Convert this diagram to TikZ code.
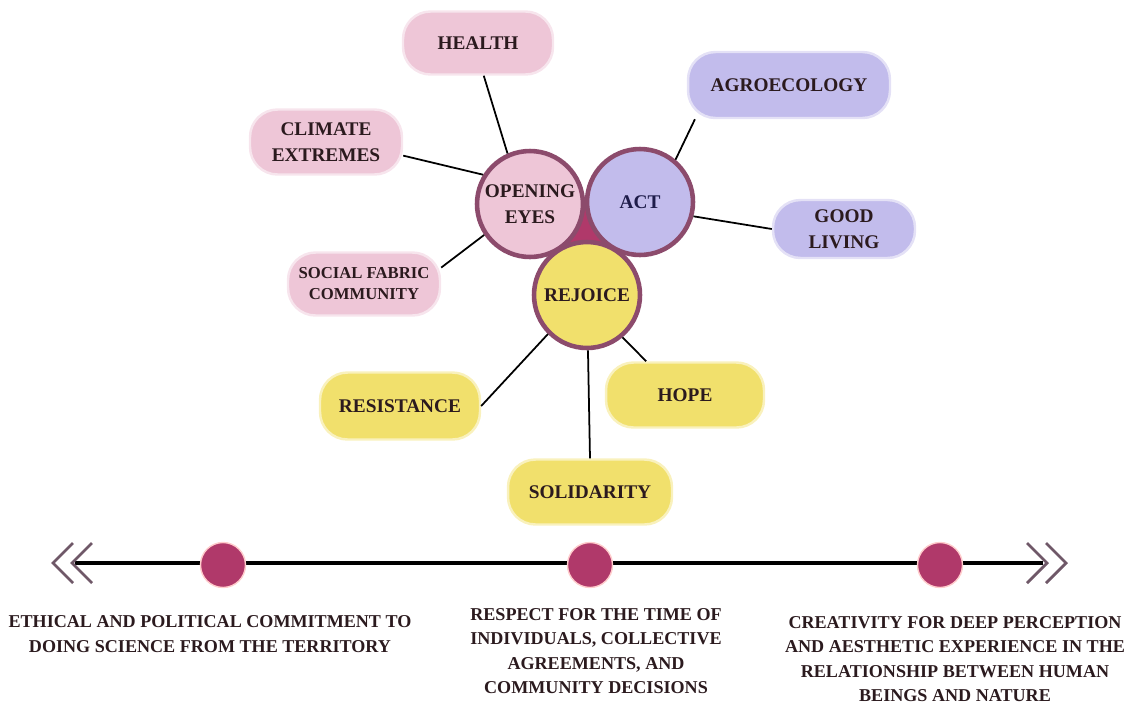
\documentclass[tikz,border=0pt]{standalone}
\usepackage{fontspec}
\setmainfont{Liberation Serif}
\definecolor{pinkbox}{HTML}{EEC6D7}
\definecolor{lilacbox}{HTML}{C2BCEC}
\definecolor{yellowbox}{HTML}{F1E06C}
\definecolor{ringcol}{HTML}{8C4B6C}
\definecolor{dotcol}{HTML}{B0396A}
\definecolor{chevcol}{HTML}{6F5868}
\definecolor{inkcol}{HTML}{2B1A1E}
\definecolor{navyink}{HTML}{1E1C4A}
\tikzset{
  box/.style={rounded corners=0.55cm, align=center, inner sep=2pt,
    font=\bfseries\fontsize{11}{15}\selectfont, text=inkcol},
  ring/.style={circle, draw=ringcol, line width=2.6pt, minimum size=2.12cm,
    inner sep=0pt, align=center, font=\bfseries\fontsize{11}{15}\selectfont, text=inkcol},
  spoke/.style={line width=1pt, black},
  dot/.style={circle, fill=dotcol, draw=pink!80, line width=0.8pt, minimum size=0.9cm},
  chevron/.style={chevcol, line width=1.6pt},
  caption/.style={align=center, font=\bfseries\fontsize{10.3}{14}\selectfont, text=inkcol}
}
\begin{document}
\begin{tikzpicture}[x=0.02cm,y=-0.02cm]
        \useasboundingbox (0,0) rectangle (1133,704);
        % three circles and the patch between them
        \coordinate (c1) at (530,204);
        \coordinate (c2) at (640,202);
        \coordinate (c3) at (587,295);
        \fill[dotcol] (c1)--(c2)--(c3)--cycle;
        \node[ring,fill=pinkbox] (oe) at (c1) {OPENING\\EYES};
        \node[ring,fill=lilacbox,text=navyink] (act) at (c2) {ACT};
        \node[ring,fill=yellowbox] (rej) at (c3) {REJOICE};
        % boxes
        \foreach \n/\x/\y/\w/\h/\c/\t in {
        health/478/43/3.0/1.26/pinkbox/HEALTH,
        climate/326/142/3.04/1.3/pinkbox/{CLIMATE\\EXTREMES},
        agro/789/85/4.04/1.32/lilacbox/AGROECOLOGY,
        good/844/229/2.84/1.16/lilacbox/{GOOD\\LIVING},
        resist/400/406/3.2/1.34/yellowbox/RESISTANCE,
        hope/685/395/3.16/1.3/yellowbox/HOPE,
        solid/590/492/3.28/1.3/yellowbox/SOLIDARITY}{
            \node[box,fill=\c,draw=\c!45!white,line width=1.4pt,minimum width=\w cm,minimum height=\h cm] (\n) at (\x,\y) {\t};
        }
        \node[box,fill=pinkbox,draw=pinkbox!45!white,line width=1.4pt,minimum width=3.04cm,minimum height=1.26cm,
          font=\bfseries\fontsize{9.5}{12}\selectfont] (social) at (364,284) {SOCIAL FABRIC\\COMMUNITY};
        % spokes
        \draw[spoke](health.-80)--(oe.114);
        \draw[spoke](climate.-10)--(oe.148);
        \draw[spoke](social.12)--(oe.214);
        \draw[spoke](agro.-160)--(act.50);
        \draw[spoke](good.west)--(act.-15);
        \draw[spoke](resist.east)--(rej.-135);
        \draw[spoke](hope.139)--(rej.-50);
        \draw[spoke](solid.north)--(rej.-89);
        % timeline
        \coordinate (tl) at (75,563);
        \coordinate (tr) at (1043,563);
        \draw[line width=2.2pt](tl)--(tr);
        \foreach \dx in {0,19}{
            \draw[chevron](73+\dx,543)--(53+\dx,563)--(73+\dx,583);
            \draw[chevron](1027+\dx,543)--(1047+\dx,563)--(1027+\dx,583);
        }
        \foreach \n/\x in {d1/223,d2/590,d3/940}{
            \node[dot] (\n) at (\x,565) {};
        }
        \node[caption] (cap1) at (210,634) {ETHICAL AND POLITICAL COMMITMENT TO\\DOING SCIENCE FROM THE TERRITORY};
        \node[caption] (cap2) at (596,651) {RESPECT FOR THE TIME OF\\INDIVIDUALS, COLLECTIVE\\AGREEMENTS, AND\\COMMUNITY DECISIONS};
        \node[caption] (cap3) at (955,659) {CREATIVITY FOR DEEP PERCEPTION\\AND AESTHETIC EXPERIENCE IN THE\\RELATIONSHIP BETWEEN HUMAN\\BEINGS AND NATURE};
    \end{tikzpicture}
\end{document}
